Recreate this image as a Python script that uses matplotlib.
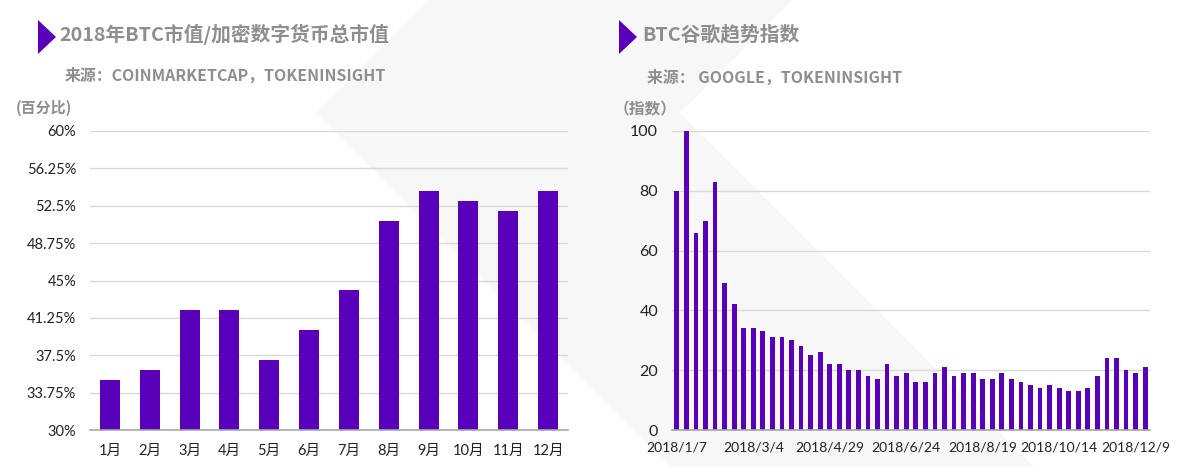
#!/usr/bin/env python3
"""BTC market share and Google trend index, 2018."""

import matplotlib

matplotlib.use("Agg")
import matplotlib.pyplot as plt
from matplotlib.patches import Polygon

plt.rcParams["font.family"] = ["Noto Sans CJK SC", "DejaVu Sans"]

WIDTH, HEIGHT = 1183, 467
PURPLE = "#5900ba"
GREY_TEXT = "#8e8e8e"
GRID = "#d9d9d9"
TICK_FONT = ["Lato", "Noto Sans CJK SC"]

months = ["1月", "2月", "3月", "4月", "5月", "6月", "7月", "8月", "9月", "10月", "11月", "12月"]
share = [35, 36, 42, 42, 37, 40, 44, 51, 54, 53, 52, 54]
share_ticks = [30, 33.75, 37.5, 41.25, 45, 48.75, 52.5, 56.25, 60]
share_tick_labels = ["30%", "33.75%", "37.5%", "41.25%", "45%", "48.75%", "52.5%", "56.25%", "60%"]

trend = [
    80, 100, 66, 70, 83, 49, 42, 34, 34, 33, 31, 31, 30, 28, 25, 26, 22,
    22, 20, 20, 18, 17, 22, 18, 19, 16, 16, 19, 21, 18, 19, 19, 17, 17,
    19, 17, 16, 15, 14, 15, 14, 13, 13, 14, 18, 24, 24, 20, 19, 21,
]
trend_ticks = [0, 20, 40, 60, 80, 100]
date_labels = [
    "2018/1/7", "2018/3/4", "2018/4/29", "2018/6/24",
    "2018/8/19", "2018/10/14", "2018/12/9",
]


def px_axes(fig, left, top, right, bottom):
    return fig.add_axes([
        left / WIDTH,
        1 - bottom / HEIGHT,
        (right - left) / WIDTH,
        (bottom - top) / HEIGHT,
    ])


def style_axes(ax):
    ax.patch.set_alpha(0)
    for side in ("top", "left", "right"):
        ax.spines[side].set_visible(False)
    ax.spines["bottom"].set_color("#a8a8a8")
    ax.spines["bottom"].set_linewidth(1.2)
    ax.grid(axis="y", color=GRID, linewidth=1.0)
    ax.set_axisbelow(True)
    ax.tick_params(length=0, labelsize=10, labelcolor="#222222")


def set_tick_font(ax):
    for label in ax.get_xticklabels() + ax.get_yticklabels():
        label.set_fontfamily(TICK_FONT)


fig = plt.figure(figsize=(WIDTH / 100, HEIGHT / 100), dpi=100)

# page layer in pixel coordinates: chevron watermark, title markers and text
bg = fig.add_axes([0, 0, 1, 1])
bg.set_xlim(0, WIDTH)
bg.set_ylim(HEIGHT, 0)
bg.axis("off")
bg.add_patch(Polygon(
    [(429, 0), (792, 0), (680, 113), (1034, 467), (670, 467), (316, 113)],
    facecolor="#f7f7f7", edgecolor="none",
))
bg.add_patch(Polygon([(38, 20), (38, 54), (56, 37)], facecolor=PURPLE, edgecolor="none"))
bg.add_patch(Polygon([(619, 20), (619, 54), (637, 37)], facecolor=PURPLE, edgecolor="none"))

bg.text(59, 34, "2018年BTC市值/加密数字货币总市值", fontsize=14.2, fontweight="bold",
        color=GREY_TEXT, va="center")
bg.text(642, 35, "BTC谷歌趋势指数", fontsize=14.2, fontweight="bold",
        color=GREY_TEXT, va="center")
bg.text(65, 76, "来源：COINMARKETCAP，TOKENINSIGHT", fontsize=11.45, fontweight="bold",
        color=GREY_TEXT, va="center")
bg.text(647, 78, "来源： GOOGLE，TOKENINSIGHT", fontsize=11.45, fontweight="bold",
        color=GREY_TEXT, va="center")
bg.text(16, 108, "(百分比)", fontsize=10.8, fontweight="bold", color=GREY_TEXT, va="center")
bg.text(614, 109, "（指数）", fontsize=11.3, fontweight="bold", color=GREY_TEXT, va="center")

ax_share = px_axes(fig, 90, 131, 568, 430)
style_axes(ax_share)
ax_share.bar(range(len(share)), share, width=0.5, color=PURPLE)
ax_share.set_xlim(-0.5, len(share) - 0.5)
ax_share.set_ylim(30, 60)
ax_share.set_yticks(share_ticks, share_tick_labels)
ax_share.set_xticks(range(len(months)), months)
ax_share.tick_params(axis="x", pad=10, labelsize=10.5)
ax_share.tick_params(axis="y", pad=10, labelsize=10.5)
set_tick_font(ax_share)

ax_trend = px_axes(fig, 672, 131, 1150, 430)
style_axes(ax_trend)
ax_trend.bar(range(len(trend)), trend, width=0.5, color=PURPLE)
ax_trend.set_xlim(-0.5, len(trend) - 0.5)
ax_trend.set_ylim(0, 100)
ax_trend.set_yticks(trend_ticks)
ax_trend.set_xticks(range(0, len(trend), 8), date_labels)
ax_trend.tick_params(axis="x", pad=8, labelsize=10)
ax_trend.tick_params(axis="y", pad=10, labelsize=11.5)
set_tick_font(ax_trend)

fig.savefig("out.png", dpi=100)
